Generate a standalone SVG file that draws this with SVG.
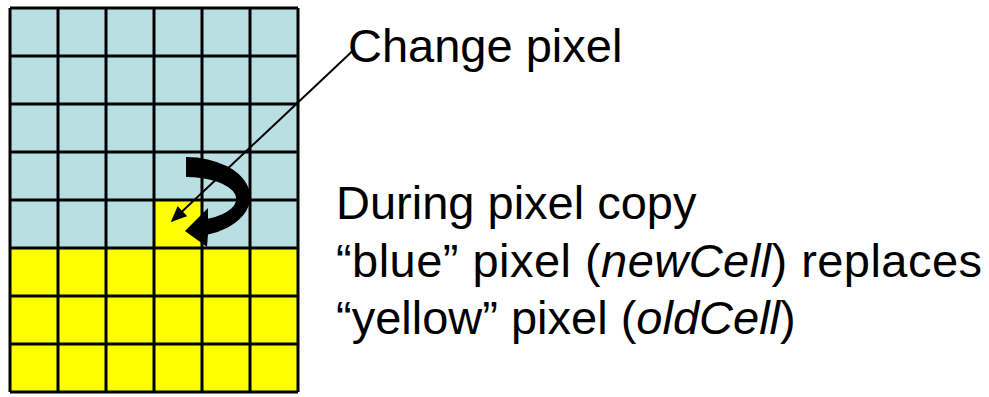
<svg xmlns="http://www.w3.org/2000/svg" width="989" height="397" viewBox="0 0 989 397">
  <style>
    .txt { font-family: "Liberation Sans", Arial, sans-serif; font-size: 47px; fill: #000; }
    .grid { stroke: #000; stroke-width: 3; fill: none; }
  </style>
  <defs>
    <marker id="ah" viewBox="0 0 10 10" refX="9" refY="5" markerWidth="8" markerHeight="7" markerUnits="strokeWidth" orient="auto" preserveAspectRatio="none">
      <path d="M0,0 L10,5 L0,10 Z" fill="#000"/>
    </marker>
  </defs>
  <rect width="989" height="397" fill="#fff"/>

  <g id="pixel-grid">
    <rect x="10" y="8" width="288" height="240" fill="#B9DFE3"/>
    <rect x="10" y="248" width="288" height="144" fill="#FFFF00"/>
    <rect id="changed-pixel" x="154" y="200" width="48" height="48" fill="#FFFF00"/>
    <path class="grid" d="M10,8 V392 M58,8 V392 M106,8 V392 M154,8 V392 M202,8 V392 M250,8 V392 M298,8 V392
      M10,8 H298 M10,56 H298 M10,104 H298 M10,152 H298 M10,200 H298 M10,248 H298 M10,296 H298 M10,344 H298 M10,392 H298"/>
  </g>

  <g id="curved-arrow">
    <path d="M186,157 A64,40 0 0 1 208,234.6 L207,247 L185,231 L208,208 L208,218.8 A50,22 0 0 0 186,177 Z" fill="#000"/>
  </g>

  <g id="connectors">
    <line x1="352" y1="51.5" x2="172" y2="221" stroke="#000" stroke-width="2" marker-end="url(#ah)"/>
  </g>

  <g id="label-change">
    <text class="txt" x="348" y="62">Change pixel</text>
  </g>

  <g id="label-copy">
    <text class="txt" x="336" y="219">During pixel copy</text>
    <text class="txt" x="336" y="277" textLength="646" lengthAdjust="spacing">“blue” pixel (<tspan font-style="italic">newCell</tspan>) replaces</text>
    <text class="txt" x="336" y="334">“yellow” pixel (<tspan font-style="italic">oldCell</tspan>)</text>
  </g>
</svg>
